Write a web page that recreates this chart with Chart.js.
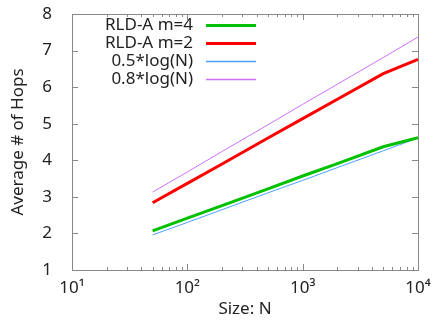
<!DOCTYPE html>
<html>
<head>
<meta charset="utf-8">
<script src="https://cdn.jsdelivr.net/npm/chart.js@4.4.1/dist/chart.umd.min.js"></script>
<style>
html,body{margin:0;padding:0;background:#fff;}
#wrap{width:434px;height:322px;}
</style>
</head>
<body>
<div id="wrap"><canvas id="c" width="434" height="322"></canvas></div>
<script>
// ---- data ----
const sizes   = [50, 100, 200, 500, 1000, 2000, 5000, 10000];
const rldM4   = [2.07, 2.42, 2.76, 3.22, 3.57, 3.91, 4.37, 4.62];
const rldM2   = [2.84, 3.37, 3.90, 4.61, 5.14, 5.67, 6.37, 6.76];
const logHalf = [1.96, 2.30, 2.65, 3.11, 3.45, 3.80, 4.26, 4.61];
const logEight= [3.13, 3.68, 4.24, 4.97, 5.53, 6.08, 6.81, 7.37];
const seriesLabels = ['RLD-A m=4', 'RLD-A m=2', '0.5*log(N)', '0.8*log(N)'];
const xDecades = [10, 100, 1000, 10000];
const xDecadeLabels = ['10\u00B9', '10\u00B2', '10\u00B3', '10\u2074'];
const yTicks = [1, 2, 3, 4, 5, 6, 7, 8];

const FONT = 'Noto Sans';
const FS = 17;
const TXT = '#222';
const FRAME = '#888';

function pts(vals){ return sizes.map((s,i)=>({x:s, y:vals[i]})); }

const frameTicks = {
  id: 'frameTicks',
  afterDraw(chart){
    const ctx = chart.ctx, a = chart.chartArea;
    const xs = chart.scales.x, ys = chart.scales.y;
    ctx.save();
    ctx.strokeStyle = FRAME;
    ctx.lineWidth = 1;
    ctx.strokeRect(Math.round(a.left)+0.5, Math.round(a.top)+0.5, Math.round(a.right-a.left), Math.round(a.bottom-a.top));
    ctx.beginPath();
    for (let d = 0; d < xDecades.length; d++) {
      for (let m = 1; m <= 9; m++) {
        const v = xDecades[d]*m;
        if (v > xDecades[xDecades.length-1]) break;
        const px = Math.round(xs.getPixelForValue(v))+0.5;
        const len = m === 1 ? 6 : 3;
        ctx.moveTo(px, a.bottom); ctx.lineTo(px, a.bottom-len);
        ctx.moveTo(px, a.top); ctx.lineTo(px, a.top+len);
      }
    }
    for (const v of yTicks) {
      const py = Math.round(ys.getPixelForValue(v))+0.5;
      ctx.moveTo(a.left, py); ctx.lineTo(a.left+6, py);
      ctx.moveTo(a.right, py); ctx.lineTo(a.right-6, py);
    }
    ctx.stroke();
    // legend
    ctx.font = FS + 'px "' + FONT + '"';
    ctx.textAlign = 'right';
    ctx.textBaseline = 'middle';
    chart.data.datasets.forEach((ds, i) => {
      const y = 25 + i*18;
      ctx.fillStyle = TXT;
      ctx.fillText(ds.label, 193, y);
      const opts = chart.getDatasetMeta(i).dataset.options;
      ctx.strokeStyle = opts.borderColor;
      ctx.lineWidth = opts.borderWidth === 1 ? 1.3 : opts.borderWidth;
      ctx.beginPath();
      ctx.moveTo(206, y + 0.5); ctx.lineTo(256, y + 0.5);
      ctx.stroke();
    });
    ctx.restore();
  }
};

new Chart(document.getElementById('c'), {
  type: 'line',
  data: {
    datasets: [
      {label: seriesLabels[0], data: pts(rldM4), borderColor: '#00c000', borderWidth: 3},
      {label: seriesLabels[1], data: pts(rldM2), borderColor: '#ff0000', borderWidth: 3},
      {label: seriesLabels[2], data: pts(logHalf), borderColor: '#4aa0ff', borderWidth: 1},
      {label: seriesLabels[3], data: pts(logEight), borderColor: '#d070ff', borderWidth: 1}
    ]
  },
  options: {
    responsive: false,
    animation: false,
    events: [],
    layout: {padding: {top: 14, right: 16, left: 0, bottom: 0}},
    elements: {point: {radius: 0}, line: {tension: 0}},
    plugins: {legend: {display: false}, tooltip: {enabled: false}},
    scales: {
      x: {
        type: 'logarithmic', min: 10, max: 10000,
        afterBuildTicks(s){ s.ticks = xDecades.map(v => ({value: v})); },
        afterFit(s){ s.height = 52; s.paddingLeft = 0; s.paddingRight = 0; },
        grid: {display: false}, border: {display: false},
        ticks: {
          autoSkip: false, maxRotation: 0, padding: 0,
          color: TXT, font: {family: FONT, size: FS},
          callback: (v) => { const i = xDecades.indexOf(v); return i >= 0 ? xDecadeLabels[i] : ''; }
        },
        title: {display: true, text: 'Size: N', color: TXT, font: {family: FONT, size: FS}, padding: {top: 0, bottom: 3}}
      },
      y: {
        min: 1, max: 8,
        afterBuildTicks(s){ s.ticks = yTicks.map(v => ({value: v})); },
        afterFit(s){ s.width = 72; s.paddingTop = 0; s.paddingBottom = 0; },
        grid: {display: false}, border: {display: false},
        ticks: {padding: 12, color: TXT, font: {family: FONT, size: FS}},
        title: {display: true, text: 'Average # of Hops', color: TXT, font: {family: FONT, size: FS}, padding: {top: 8, bottom: 0}}
      }
    }
  },
  plugins: [frameTicks]
});
</script>
</body>
</html>
